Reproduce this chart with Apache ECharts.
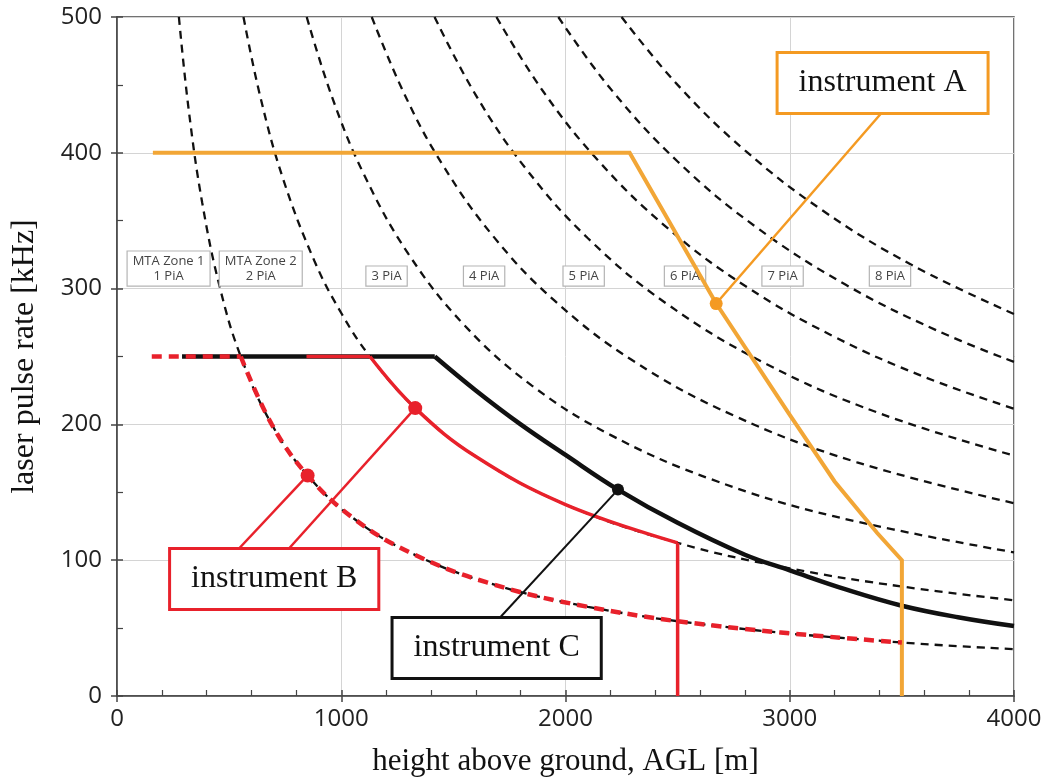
<!DOCTYPE html>
<html>
<head>
<meta charset="utf-8">
<script src="https://cdn.jsdelivr.net/npm/echarts@6/dist/echarts.min.js"></script>
<style>
  html, body { margin: 0; padding: 0; background: #fff; }
  #chart { width: 1056px; height: 783px; }
</style>
</head>
<body>
<div id="chart"></div>
<script>
// Axis ranges and ticks
const xTickStep = 1000;   // height above ground [m]
const yTickStep = 100;    // laser pulse rate [kHz]
const xRange = [0, 4000];
const yRange = [0, 500];

// MTA zone boundaries (dashed): [height m, pulse rate kHz]
const zone1 = [[276,500],[320,431.3],[380,363.2],[460,300],[552,250],[690,200],[850,162.4],[1050,131.4],[1300,106.2],[1650,83.6],[2100,65.7],[2700,51.1],[3500,39.4],[4000,34.5]];
const zone2 = [[564,500],[640,440.6],[740,381.1],[880,320.5],[1000,282],[1128,250],[1330,212],[1600,176.3],[2000,141],[2500,112.8],[3000,94],[3500,80.6],[4000,70.5]];
const zone3 = [[846,500],[960,440.6],[1100,384.5],[1300,325.4],[1550,272.9],[1850,228.6],[2200,192.3],[2650,159.6],[3200,132.2],[4000,105.8]];
const zone4 = [[1136,500],[1280,443.8],[1450,391.7],[1680,338.1],[1950,291.3],[2300,247],[2750,206.5],[3300,172.1],[4000,142]];
const zone5 = [[1416,500],[1600,442.5],[1820,389],[2100,337.1],[2450,289],[2900,244.1],[3400,208.2],[4000,177]];
const zone6 = [[1692,500],[1900,445.3],[2150,393.5],[2450,345.3],[2800,302.1],[3200,264.4],[3600,235],[4000,211.5]];
const zone7 = [[1968,500],[2200,447.3],[2500,393.6],[2850,345.3],[3250,302.8],[3650,269.6],[4000,246]];
const zone8 = [[2250,500],[2500,450],[2800,401.8],[3150,357.1],[3550,316.9],[4000,281.3]];
const zoneCurves = [zone1, zone2, zone3, zone4, zone5, zone6, zone7, zone8];

// Zone labels, placed just above the 300 kHz grid line
const zoneLabels = ['MTA Zone 1\n1 PiA', 'MTA Zone 2\n2 PiA', '3 PiA', '4 PiA', '5 PiA', '6 PiA', '7 PiA', '8 PiA'];
const zoneLabelHeights = [230, 641, 1202, 1637, 2081, 2533, 2968, 3447];
const zoneLabelRate = 300;

// Instrument A operating envelope
const instrumentA = [[160,400],[2286,400],[2672,289],[3000,207],[3200,158],[3390,120],[3500,100],[3500,0]];

// Instrument B: 1 PiA mode (dashed) and 2 PiA mode (solid)
const instrumentBDashedFlat = [[155,250],[552,250]];
const instrumentBDashedRange = [552, 3500];      // follows zone 1 boundary
const instrumentBSolidFlat = [[845,250],[1128,250]];
const instrumentBSolidRange = [1128, 2500];      // follows zone 2 boundary
const instrumentBCutoff = [[2500,112.8],[2500,0]];

// Instrument C
const instrumentCFlat = [[290,250],[1417,250]];
const instrumentCCurve = [[1417,250],[1600,225],[1800,200],[2000,177.5],[2234,152],[2500,127.5],[2800,104],[3000,92.5],[3250,78.5],[3500,66.5],[3750,58],[4000,51.5]];

// Marked points on each envelope
const markerA = [2672, 289];
const markerB = [[850, 162.4], [1330, 212]];
const markerC = [2234, 152];

// Callout boxes: text, box centre, leader start
const calloutNames = ['instrument A', 'instrument B', 'instrument C'];
const calloutCentres = [[3414, 451.4], [701, 86.2], [1693, 35.3]];
const leaderA = [[3408, 429.1], markerA];
const leaderB1 = [[538, 107.5], markerB[0]];
const leaderB2 = [[761, 107.5], markerB[1]];
const leaderC = [[1706, 57.4], markerC];

const ORANGE = '#F2A636';
const ORANGE_BOX = '#F49A22';
const RED = '#E8212B';
const BLACK = '#111111';
const serif = '"Liberation Serif", "Times New Roman", serif';
const sans = '"Open Sans", "Noto Sans", sans-serif';

function plain(data, color, width, z, extra) {
  return Object.assign({
    type: 'line', data: data, showSymbol: false, symbol: 'none', silent: true,
    z: z, animation: false,
    lineStyle: { color: color, width: width, cap: 'butt', join: 'miter' }
  }, extra || {});
}

function dots(data, color, size) {
  return {
    type: 'scatter', z: 8, silent: true, animation: false, symbolSize: size,
    data: data, itemStyle: { color: color, opacity: 1 }
  };
}

const between = (arr, r) => arr.filter(p => p[0] >= r[0] && p[0] <= r[1]);

const series = [];

zoneCurves.forEach(c => {
  series.push(plain(c, BLACK, 2.3, 2, { smooth: 0.4, lineStyle: { color: BLACK, width: 2.3, type: [8, 6] } }));
});

series.push({
  type: 'scatter', z: 3, silent: true, animation: false,
  symbolSize: 0, itemStyle: { color: 'rgba(0,0,0,0)', opacity: 1 },
  data: zoneLabels.map((t, i) => ({ value: [zoneLabelHeights[i], zoneLabelRate], name: t })),
  label: {
    show: true, position: 'top', distance: 3, formatter: '{b}',
    fontFamily: sans, fontSize: 13, lineHeight: 15, color: '#444',
    textBorderWidth: 0,
    backgroundColor: '#fff', borderColor: '#b4b4b4', borderWidth: 1.2,
    padding: [2, 5, 2, 5], align: 'center'
  }
});

// Instrument C (black)
series.push(plain(instrumentCFlat, BLACK, 4.5, 4));
series.push(plain(instrumentCCurve, BLACK, 4.5, 4, { smooth: 0.4 }));

// Instrument A (orange)
series.push(plain(instrumentA, ORANGE, 4, 5));

// Instrument B (red)
const dashRed = { color: RED, width: 4.5, type: [10, 7] };
series.push(plain(instrumentBDashedFlat, RED, 4.5, 6, { lineStyle: dashRed }));
series.push(plain(between(zone1, instrumentBDashedRange), RED, 4.5, 6, { smooth: 0.4, lineStyle: dashRed }));
series.push(plain(instrumentBSolidFlat, RED, 3.5, 6));
series.push(plain(between(zone2, instrumentBSolidRange), RED, 3.5, 6, { smooth: 0.4 }));
series.push(plain(instrumentBCutoff, RED, 3.5, 6));

// Leader lines
series.push(plain(leaderA, ORANGE_BOX, 2.5, 7));
series.push(plain(leaderB1, RED, 2.5, 7));
series.push(plain(leaderB2, RED, 2.5, 7));
series.push(plain(leaderC, BLACK, 2, 7));

// Markers
series.push(dots([markerA], ORANGE_BOX, 13));
series.push(dots(markerB, RED, 14));
series.push(dots([markerC], BLACK, 12));

// Callout boxes
const calloutColors = [ORANGE_BOX, RED, BLACK];
series.push({
  type: 'scatter', z: 9, silent: true, animation: false,
  symbolSize: 1, itemStyle: { color: 'rgba(0,0,0,0)', opacity: 1 },
  data: calloutNames.map((n, i) => ({
    value: calloutCentres[i], name: n,
    label: { borderColor: calloutColors[i] }
  })),
  label: {
    show: true, position: 'inside', formatter: '{b}',
    fontFamily: serif, fontSize: 32, lineHeight: 34, color: '#111',
    textBorderWidth: 0, textBorderColor: 'transparent',
    backgroundColor: '#fff', borderWidth: 3,
    padding: [12, 20, 12, 20]
  }
});

const axisLineStyle = { color: '#444', width: 1.5 };

const option = {
  backgroundColor: '#fff',
  animation: false,
  grid: {
    left: 117, right: 42, top: 17, bottom: 87,
    show: true, borderColor: '#444', borderWidth: 1.5, backgroundColor: 'transparent'
  },
  xAxis: [
    {
      type: 'value', min: xRange[0], max: xRange[1], interval: xTickStep,
      position: 'bottom',
      name: 'height above ground, AGL [m]', nameLocation: 'middle', nameGap: 50,
      nameTextStyle: { fontFamily: serif, fontSize: 31, color: '#111' },
      axisLine: { show: true, lineStyle: axisLineStyle },
      axisTick: { show: true, inside: true, length: 6, lineStyle: axisLineStyle },
      minorTick: { show: true, splitNumber: 5, length: 6, lineStyle: { color: '#444', width: 1.2 } },
      axisLabel: { fontFamily: sans, fontSize: 24, color: '#222', margin: 11, formatter: v => String(v) },
      splitLine: { show: true, lineStyle: { color: '#d4d4d4', width: 1 } }
    },
    {
      type: 'value', min: xRange[0], max: xRange[1], interval: xTickStep,
      position: 'bottom',
      axisLine: { show: false },
      axisTick: { show: true, inside: false, length: 6, lineStyle: axisLineStyle },
      axisLabel: { show: false },
      splitLine: { show: false }
    }
  ],
  yAxis: [
    {
      type: 'value', min: yRange[0], max: yRange[1], interval: yTickStep,
      position: 'left',
      name: 'laser pulse rate [kHz]', nameLocation: 'middle', nameGap: 76, nameRotate: 90,
      nameTextStyle: { fontFamily: serif, fontSize: 32, color: '#111' },
      axisLine: { show: true, lineStyle: axisLineStyle },
      axisTick: { show: true, inside: true, length: 6, lineStyle: axisLineStyle },
      minorTick: { show: true, splitNumber: 2, length: 6, lineStyle: { color: '#444', width: 1.2 } },
      axisLabel: { fontFamily: sans, fontSize: 24, color: '#222', margin: 15, formatter: v => String(v) },
      splitLine: { show: true, lineStyle: { color: '#d4d4d4', width: 1 } }
    },
    {
      type: 'value', min: yRange[0], max: yRange[1], interval: yTickStep,
      position: 'left',
      axisLine: { show: false },
      axisTick: { show: true, inside: false, length: 6, lineStyle: axisLineStyle },
      axisLabel: { show: false },
      splitLine: { show: false }
    }
  ],
  series: series
};

const chart = echarts.init(document.getElementById('chart'), null, { renderer: 'canvas' });
chart.setOption(option);
</script>
</body>
</html>
